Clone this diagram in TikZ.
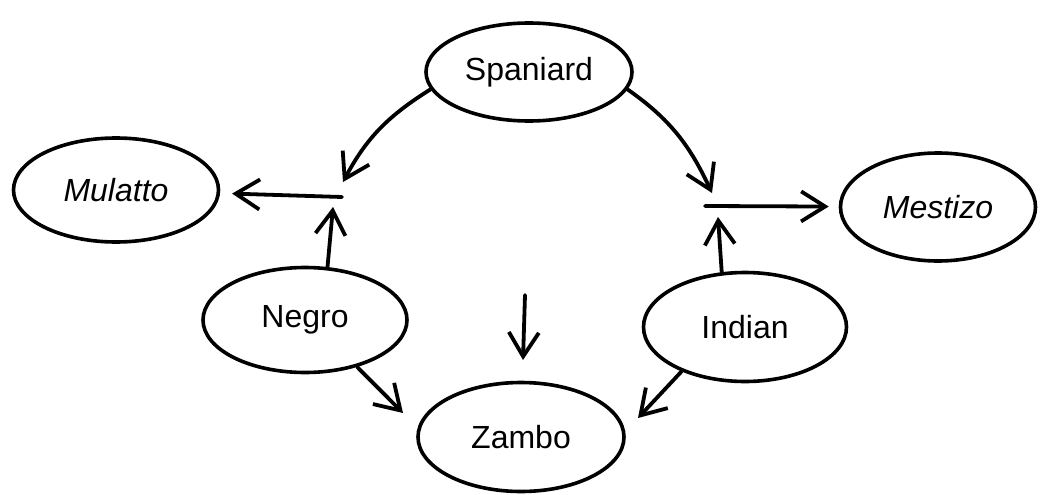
\documentclass[tikz,border=0pt]{standalone}
\usepackage{fontspec}
\setmainfont{Liberation Sans}
\usetikzlibrary{shapes.geometric,arrows.meta}
\tikzset{
  ell/.style={draw, ellipse, inner sep=0pt, line width=3.6pt,
    font=\fontsize{32}{38}\selectfont},
  arr/.style={line width=3.8pt, line cap=round,
    -{Straight Barb[length=24pt,width=30pt,line width=3.8pt]}}
}
\begin{document}
\begin{tikzpicture}[x=1pt,y=1pt]
\useasboundingbox (0,0) rectangle (1041,-495);
% nodes
\node[ell, minimum width=206pt, minimum height=98pt] (spaniard) at (529,-72) {Spaniard};
\node[ell, minimum width=205pt, minimum height=104pt] (mulatto) at (116,-190) {\itshape Mulatto};
\node[ell, minimum width=195pt, minimum height=108pt] (mestizo) at (938,-207) {\itshape Mestizo};
\node[ell, minimum width=204pt, minimum height=105pt] (negro) at (305,-320) {Negro};
\node[ell, minimum width=203pt, minimum height=109pt] (indian) at (745,-327) {Indian};
\node[ell, minimum width=206pt, minimum height=109pt] (zambo) at (521,-437) {Zambo};
% junction coordinates
\coordinate (jL) at (342,-197);
\coordinate (jR) at (705,-206);
\coordinate (tipSL) at (343,-182);
\coordinate (tipSR) at (712,-193);
\coordinate (tipNL) at (333,-207);
\coordinate (tipIR) at (718,-217);
\coordinate (zs) at (525,-295);
\coordinate (tipZ) at (523,-360);
\coordinate (tipNZ) at (403,-413);
\coordinate (tipIZ) at (638,-418);
% left branch
\draw[arr] (spaniard.190) to[out=212, in=62] (tipSL);
\draw[arr, shorten >=12pt] (jL) -- (mulatto);
\draw[arr] (negro.67) -- (tipNL);
% right branch
\draw[arr] (spaniard.-10) to[out=-35, in=115] (tipSR);
\draw[arr, shorten >=10pt] (jR) -- (mestizo);
\draw[arr] (indian.113) -- (tipIR);
% to Zambo
\draw[arr] (zs) -- (tipZ);
\draw[arr] (negro.-42) -- (tipNZ);
\draw[arr] (indian.215) -- (tipIZ);
\end{tikzpicture}
\end{document}
